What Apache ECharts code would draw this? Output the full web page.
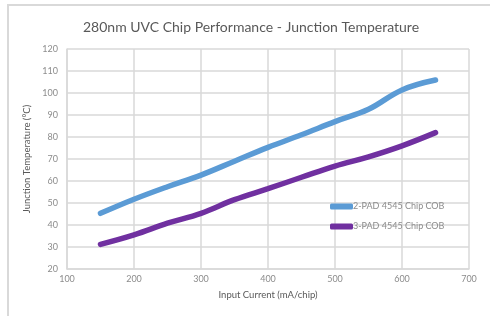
<!DOCTYPE html>
<html><head><meta charset="utf-8">
<script src="https://cdn.jsdelivr.net/npm/echarts@6/dist/echarts.min.js"></script>
<style>html,body{margin:0;padding:0;background:#fff;overflow:hidden}#c{width:490px;height:316px}</style>
</head><body><div id="c"></div>
<script>
const currents = [150, 200, 250, 300, 350, 400, 450, 500, 550, 600, 650];
const pad2 = [45.3, 51.7, 57.4, 62.7, 69, 75.3, 81, 87, 92.6, 101.4, 105.9];
const pad3 = [31.2, 35.5, 40.8, 45.3, 51.5, 56.5, 61.7, 66.8, 71, 76, 82];
const seriesNames = ['2-PAD 4545 Chip COB', '3-PAD 4545 Chip COB'];
const chart = echarts.init(document.getElementById('c'));
const font = 'Lato';
function pts(v){ return currents.map((x,i)=>[x, v[i]]); }
chart.setOption({
  animation: false,
  textStyle: {fontFamily: font},
  title: {text: '280nm UVC Chip Performance - Junction Temperature', left: 78, top: 15,
    textStyle: {fontFamily: font, fontSize: 14, fontWeight: 'normal', color: '#595959'}},
  graphic: [{type: 'rect', shape: {x: 8, y: 5, width: 700, height: 500},
    style: {fill: 'none', stroke: '#d9d9d9', lineWidth: 2}, silent: true}],
  grid: {left: 67, right: 21, top: 49, bottom: 47},
  legend: {orient: 'vertical', left: 325, top: 197, itemWidth: 23, itemHeight: 6, itemGap: 11,
    icon: 'roundRect', textStyle: {fontFamily: font, fontSize: 9, color: '#8c8c8c', padding: [0,0,0,-5]},
    data: seriesNames},
  xAxis: {type: 'value', min: 100, max: 700, interval: 100,
    name: 'Input Current (mA/chip)', nameLocation: 'middle', nameGap: 21,
    nameTextStyle: {fontFamily: font, fontSize: 9.5, color: '#595959'},
    axisLine: {lineStyle: {color: '#d9d9d9', width: 1.5}}, axisTick: {show: false},
    axisLabel: {fontSize: 9, color: '#8c8c8c', margin: 6},
    splitLine: {show: true, lineStyle: {color: '#d9d9d9', width: 1.5}}},
  yAxis: {type: 'value', min: 20, max: 120, interval: 10,
    name: 'Junction Temperature (°C)', nameLocation: 'middle', nameGap: 22,
    nameTextStyle: {fontFamily: font, fontSize: 9.5, color: '#595959'},
    axisLine: {show: true, lineStyle: {color: '#d9d9d9', width: 1.5}}, axisTick: {show: false},
    axisLabel: {fontSize: 9, color: '#8c8c8c', margin: 9},
    splitLine: {show: true, lineStyle: {color: '#d9d9d9', width: 1.5}}},
  series: [
    {name: seriesNames[0], type: 'line', smooth: 0.4, showSymbol: false, data: pts(pad2),
      itemStyle: {color: '#5b9bd5'}, lineStyle: {width: 5.5, cap: 'round', color: '#5b9bd5'}},
    {name: seriesNames[1], type: 'line', smooth: 0.4, showSymbol: false, data: pts(pad3),
      itemStyle: {color: '#7030a0'}, lineStyle: {width: 5.5, cap: 'round', color: '#7030a0'}}
  ]
});
</script></body></html>
